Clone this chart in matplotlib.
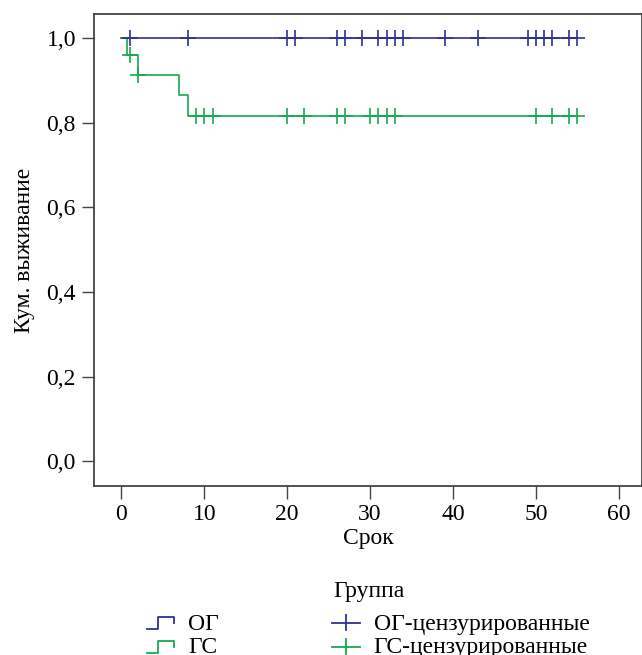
import matplotlib
matplotlib.use('Agg')
import matplotlib.pyplot as plt
from matplotlib.lines import Line2D
from matplotlib.legend_handler import HandlerBase

plt.rcParams['font.family'] = 'Liberation Serif'
plt.rcParams['font.size'] = 17

# Kaplan-Meier curves (step points) and censored times
og_time = [0, 55]
og_surv = [1.0, 1.0]
og_cens = [1, 8, 20, 21, 26, 27, 29, 31, 32, 33, 34, 39, 43, 49, 50, 51, 52, 54, 55]

gs_time = [0, 0.7, 2, 7, 8, 55]
gs_surv = [1.0, 0.96, 0.912, 0.864, 0.816, 0.816]
gs_cens = [1, 2, 9, 10, 11, 20, 22, 26, 27, 30, 31, 32, 33, 50, 52, 54, 55]

blue = '#2e3192'
green = '#16a951'


def surv_at(times, surv, t):
    s = surv[0]
    for tt, ss in zip(times, surv):
        if tt <= t:
            s = ss
    return s


class StepHandler(HandlerBase):
    # small step glyph as used by SPSS survival legends
    def create_artists(self, legend, orig, xd, yd, w, h, fontsize, trans):
        xs = [xd, xd + w * 0.42, xd + w * 0.42, xd + w, xd + w]
        ys = [yd + h * 0.05, yd + h * 0.05, yd + h * 0.75, yd + h * 0.75, yd + h * 0.4]
        return [Line2D(xs, ys, color=orig.get_color(), lw=1.3, transform=trans)]


class CensorHandler(HandlerBase):
    def create_artists(self, legend, orig, xd, yd, w, h, fontsize, trans):
        c = orig.get_color()
        ym = yd + h * 0.4
        a = Line2D([xd, xd + w], [ym, ym], color=c, lw=1.3, transform=trans)
        b = Line2D([xd + w / 2, xd + w / 2], [ym - h * 0.45, ym + h * 0.45],
                   color=c, lw=1.3, transform=trans)
        return [a, b]


fig = plt.figure(figsize=(6.42, 6.55), dpi=100)
ax = fig.add_axes([0.1464, 0.258, 0.8536, 0.721])

l1, = ax.step(og_time, og_surv, where='post', color=blue, lw=1.2)
l2, = ax.step(gs_time, gs_surv, where='post', color=green, lw=1.2)
m1, = ax.plot(og_cens, [surv_at(og_time, og_surv, t) for t in og_cens], '+',
              color=blue, ms=12, mew=1.2, ls='none')
m2, = ax.plot(gs_cens, [surv_at(gs_time, gs_surv, t) for t in gs_cens], '+',
              color=green, ms=12, mew=1.2, ls='none')

ax.set_xlim(-3.3, 62.8)
ax.set_ylim(-0.058, 1.057)
ax.set_xticks([0, 10, 20, 30, 40, 50, 60])
ax.set_yticks([0.0, 0.2, 0.4, 0.6, 0.8, 1.0])
ax.set_yticklabels(['0,0', '0,2', '0,4', '0,6', '0,8', '1,0'])
ax.tick_params(direction='out', length=9, width=1.0, color='#444444', pad=4)
for s in ax.spines.values():
    s.set_color('#444444')
    s.set_linewidth(1.3)
ax.set_xlabel('Срок', labelpad=2)
ax.set_ylabel('Кум. выживание', labelpad=8)

fig.text(369 / 642, 1 - 592 / 655, 'Группа', ha='center', va='center', fontsize=17)
leg = fig.legend([l1, l2, m1, m2],
                 ['ОГ', 'ГС', 'ОГ-цензурированные', 'ГС-цензурированные'],
                 ncol=2, loc='upper left', bbox_to_anchor=(147 / 642, 1 - 613 / 655),
                 frameon=False, fontsize=17,
                 handler_map={l1: StepHandler(), l2: StepHandler(),
                              m1: CensorHandler(), m2: CensorHandler()},
                 handlelength=1.15, columnspacing=4.8, labelspacing=0.1,
                 borderpad=0.0, borderaxespad=0.0, handletextpad=0.6)

fig.savefig('out.png', dpi=100)
